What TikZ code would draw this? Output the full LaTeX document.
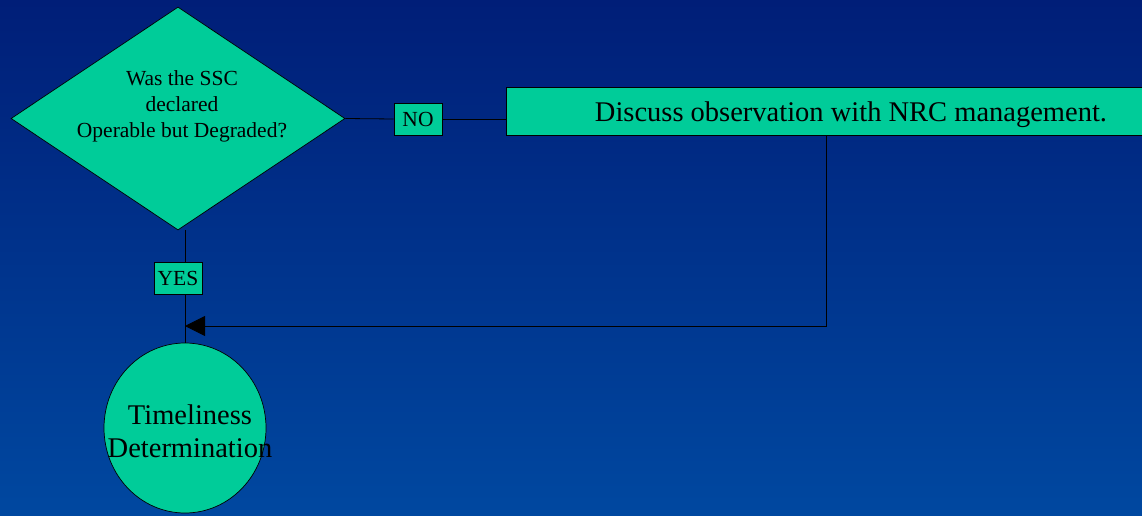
\documentclass[tikz,border=0pt]{standalone}
\usepackage{fontspec}
\setmainfont{Liberation Serif}
\usetikzlibrary{shapes.geometric,arrows.meta}
\definecolor{bgtop}{RGB}{0,30,120}
\definecolor{bgbot}{RGB}{0,72,160}
\definecolor{boxfill}{RGB}{0,204,153}
\tikzset{
  shapebox/.style={draw=black, line width=0.7pt, fill=boxfill, inner sep=0pt},
  tagbox/.style={shapebox, minimum width=48pt, minimum height=32pt,
    font=\fontsize{21.5}{26}\selectfont},
  link/.style={draw=black, line width=0.8pt},
  txt/.style={inner sep=0pt, align=center, text=black}
}
\begin{document}
\begin{tikzpicture}[x=1pt, y=-1pt]
  \useasboundingbox (0,0) rectangle (1142,516);
  \shade[top color=bgtop, bottom color=bgbot] (0,0) rectangle (1142,516);
  \clip (0,0) rectangle (1142,516);

  % decision
  \node[shapebox, diamond, minimum width=334pt, minimum height=223pt] (dec) at (178,118.5) {};
  \node[txt, font=\fontsize{21.5}{26}\selectfont] (dectext) at (182,106)
    {Was the SSC\\declared\\Operable but Degraded?};

  % action box (runs off the right edge)
  \node[shapebox, minimum width=690pt, minimum height=48pt] (act) at (851,111) {};
  \node[txt, anchor=base, font=\fontsize{28.5}{33}\selectfont] (acttext) at (851,121.5)
    {Discuss observation with NRC management.};

  % terminal
  \node[shapebox, ellipse, minimum width=162pt, minimum height=170pt] (circ) at (185,428) {};
  \node[txt, font=\fontsize{28.5}{33}\selectfont] (circtext) at (190,431)
    {Timeliness\\Determination};

  % branch labels
  \node[tagbox] (no) at (418,119) {NO};
  \node[tagbox] (yes) at (178,278.5) {YES};

  % connectors
  \draw[link] (dec.east) -- (no.west);
  \draw[link] (no.east) -- (no.east -| act.west);
  \draw[link] (circ.north |- dec.south) -- (circ.north |- yes.north);
  \draw[link] (circ.north |- yes.south) -- (circ.north);
  \coordinate (turn) at (826,326);
  \draw[link, -{Triangle[length=20pt, width=20pt]}]
    (turn |- act.south) -- (turn) -- (circ.north |- turn);
\end{tikzpicture}
\end{document}
